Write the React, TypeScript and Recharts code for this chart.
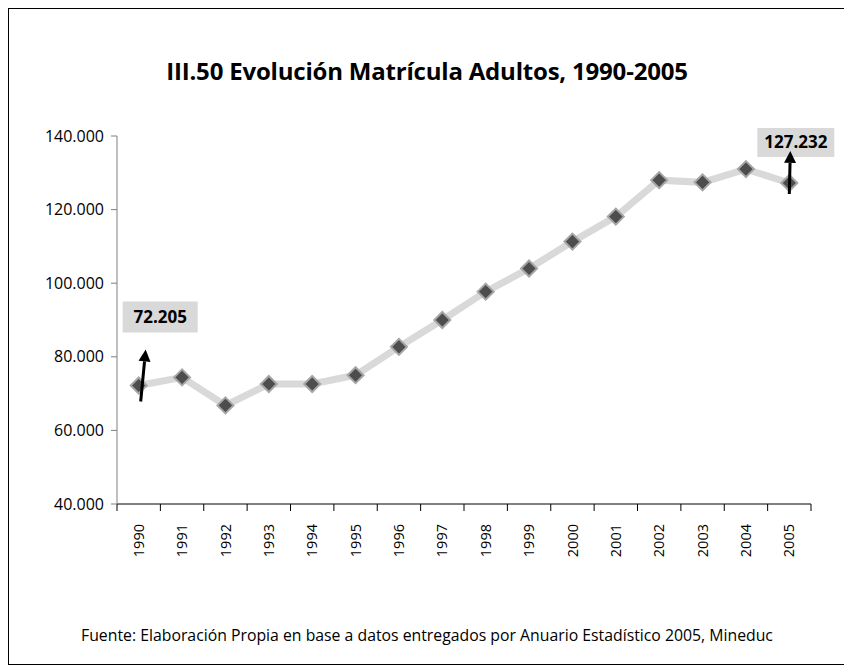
import React from "react";
import { LineChart, Line, XAxis, YAxis } from "recharts";

const years = ["1990", "1991", "1992", "1993", "1994", "1995", "1996", "1997", "1998", "1999", "2000", "2001", "2002", "2003", "2004", "2005"];
const enrollment = [72205, 74400, 66800, 72600, 72600, 75000, 82700, 90000, 97700, 104000, 111300, 118100, 128000, 127400, 131000, 127232];
const yTicks = [40000, 60000, 80000, 100000, 120000, 140000];
const bandEdges = [0, 1, 2, 3, 4, 5, 6, 7, 8, 9, 10, 11, 12, 13, 14, 15, 16];
const bandCenters = years.map((_, i) => i + 0.5);

const data = years.map((year, i) => ({ pos: i + 0.5, year, value: enrollment[i] }));

const FONT = "'Open Sans', sans-serif";

const fmt = (v: number) => String(v).replace(/\B(?=(\d{3})+(?!\d))/g, ".");

const Diamond = (props: any) => {
  const { cx, cy } = props;
  if (cx == null || cy == null) return null;
  const r = 8;
  return (
    <polygon
      points={`${cx},${cy - r} ${cx + r},${cy} ${cx},${cy + r} ${cx - r},${cy}`}
      fill="#4d4d4d"
      stroke="#a6a6a6"
      strokeWidth={2}
    />
  );
};

const YearTick = (props: any) => {
  const { x, y, payload } = props;
  const idx = Math.round(payload.value - 0.5);
  return (
    <text
      x={x}
      y={y}
      transform={`rotate(-90, ${x}, ${y})`}
      textAnchor="end"
      dy="0.35em"
      fontSize={14.5}
      fontFamily={FONT}
      fill="#000"
    >
      {years[idx]}
    </text>
  );
};

const EndLabel = (props: any) => {
  const { x, y, index, value } = props;
  const last = years.length - 1;
  if (index !== 0 && index !== last) return null;
  const first = index === 0;
  const box = first ? { x: -16, y: -84, w: 75, h: 31 } : { x: -32, y: -55, w: 77, h: 29 };
  const arrow = first ? { x1: 2, y1: 16, x2: 7, y2: -36 } : { x1: 0, y1: 11, x2: 1, y2: -32 };
  const ang = Math.atan2(arrow.y2 - arrow.y1, arrow.x2 - arrow.x1);
  const hl = 12;
  const hw = 6;
  const tx = x + arrow.x2;
  const ty = y + arrow.y2;
  const bx = tx - hl * Math.cos(ang);
  const by = ty - hl * Math.sin(ang);
  const px = -Math.sin(ang) * hw;
  const py = Math.cos(ang) * hw;
  return (
    <g>
      <rect x={x + box.x} y={y + box.y} width={box.w} height={box.h} fill="#d9d9d9" />
      <text
        x={x + box.x + box.w / 2}
        y={y + box.y + box.h / 2}
        textAnchor="middle"
        dy="0.35em"
        fontSize={17}
        fontWeight="bold"
        fontFamily={FONT}
        fill="#000"
      >
        {fmt(value)}
      </text>
      <line x1={x + arrow.x1} y1={y + arrow.y1} x2={bx} y2={by} stroke="#000" strokeWidth={3} />
      <polygon points={`${tx},${ty} ${bx + px},${by + py} ${bx - px},${by - py}`} fill="#000" />
    </g>
  );
};

export default function App() {
  return (
    <div
      style={{
        position: "relative",
        width: 838,
        height: 657,
        border: "1px solid #000",
        boxSizing: "border-box",
        background: "#fff",
      }}
    >
      <div
        style={{
          position: "absolute",
          top: 45,
          left: 0,
          width: "100%",
          textAlign: "center",
          fontFamily: FONT,
          fontWeight: "bold",
          fontSize: 24,
          letterSpacing: -0.2,
        }}
      >
        III.50 Evolución Matrícula Adultos, 1990-2005
      </div>
      <LineChart
        width={836}
        height={655}
        data={data}
        margin={{ top: 127, right: 34, left: 28, bottom: 100 }}
      >
        <XAxis
          xAxisId="a"
          dataKey="pos"
          type="number"
          domain={[0, 16]}
          ticks={bandEdges}
          tickFormatter={() => ""}
          height={8}
          tickSize={7}
          stroke="#000"
          interval={0}
        />
        <XAxis
          xAxisId="b"
          dataKey="pos"
          type="number"
          domain={[0, 16]}
          ticks={bandCenters}
          tick={<YearTick />}
          tickLine={false}
          axisLine={false}
          height={52}
          tickMargin={6}
          interval={0}
        />
        <YAxis
          domain={[40000, 140000]}
          ticks={yTicks}
          tickFormatter={fmt}
          width={80}
          tickSize={6}
          tickMargin={7}
          stroke="#808080"
          tick={{ fill: "#000", fontSize: 16, fontFamily: FONT }}
          interval={0}
        />
        <Line
          xAxisId="a"
          dataKey="value"
          stroke="#d9d9d9"
          strokeWidth={7}
          dot={<Diamond />}
          activeDot={false}
          label={<EndLabel />}
          isAnimationActive={false}
        />
      </LineChart>
      <div
        style={{
          position: "absolute",
          top: 615,
          left: 0,
          width: "100%",
          textAlign: "center",
          fontFamily: FONT,
          fontSize: 15.8,
        }}
      >
        Fuente: Elaboración Propia en base a datos entregados por Anuario Estadístico 2005, Mineduc
      </div>
    </div>
  );
}
